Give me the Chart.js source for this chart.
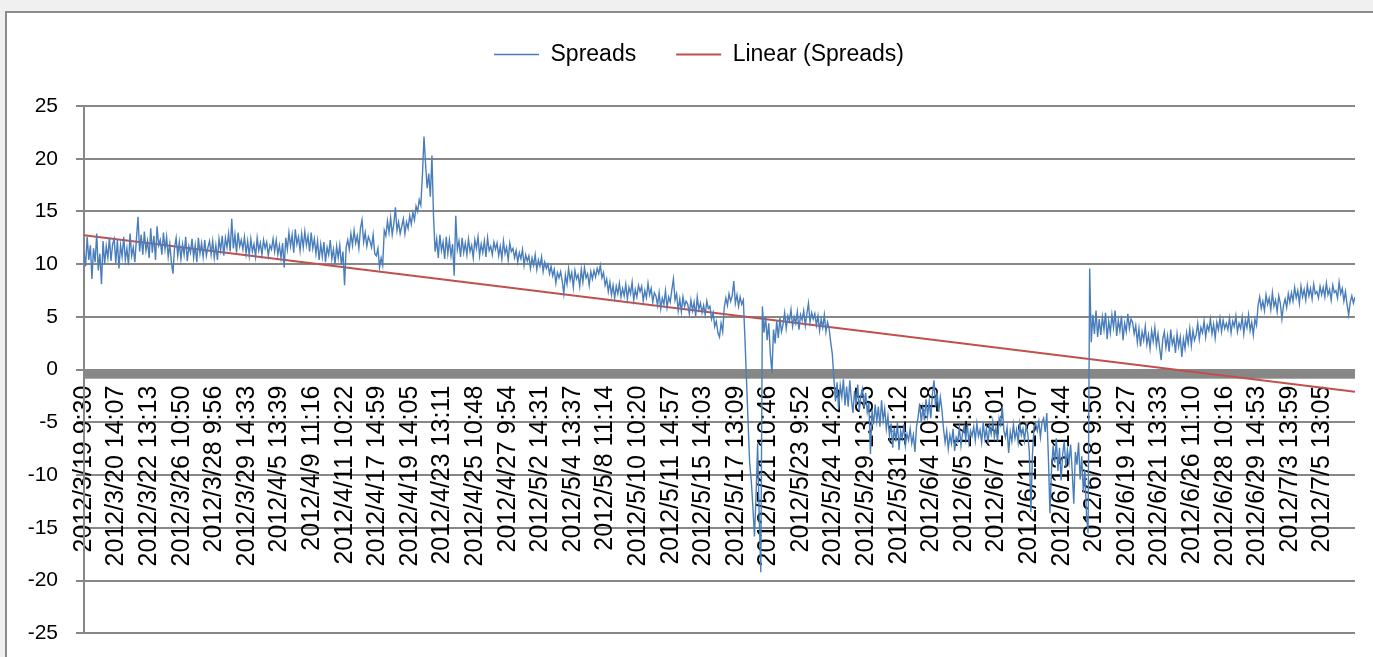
<!DOCTYPE html>
<html><head><meta charset="utf-8">
<script src="https://cdn.jsdelivr.net/npm/chart.js@4"></script>
<style>
html,body{margin:0;padding:0;background:#f0f0f0;overflow:hidden;width:1373px;height:657px}
#frame{position:absolute;left:5px;top:11px;width:1420px;height:720px;background:#fff;border:2px solid #8c8c8c;box-sizing:border-box}
#wrap{position:absolute;left:0;top:0;width:1398px;height:664px}
</style></head><body>
<div id="frame"></div>
<div id="wrap"><canvas id="c" width="1398" height="664"></canvas></div>
<script>
const tickLabels = [
"2012/3/19 9:30","2012/3/20 14:07","2012/3/22 13:13","2012/3/26 10:50","2012/3/28 9:56",
"2012/3/29 14:33","2012/4/5 13:39","2012/4/9 11:16","2012/4/11 10:22","2012/4/17 14:59",
"2012/4/19 14:05","2012/4/23 13:11","2012/4/25 10:48","2012/4/27 9:54","2012/5/2 14:31",
"2012/5/4 13:37","2012/5/8 11:14","2012/5/10 10:20","2012/5/11 14:57","2012/5/15 14:03",
"2012/5/17 13:09","2012/5/21 10:46","2012/5/23 9:52","2012/5/24 14:29","2012/5/29 13:35",
"2012/5/31 11:12","2012/6/4 10:18","2012/6/5 14:55","2012/6/7 14:01","2012/6/11 13:07",
"2012/6/13 10:44","2012/6/18 9:50","2012/6/19 14:27","2012/6/21 13:33","2012/6/26 11:10",
"2012/6/28 10:16","2012/6/29 14:53","2012/7/3 13:59","2012/7/5 13:05"
];
const spreads = [
11.2,9.8,12.6,10.4,11.8,8.6,11.5,10.2,12.9,9.4,11.0,8.1,12.2,10.0,11.7,10.6,12.5,10.3,11.9,12.4,
10.1,12.3,9.6,11.8,10.7,12.6,10.4,11.5,9.9,12.9,10.8,11.6,10.2,12.4,14.5,11.2,12.8,10.9,13.1,11.3,
12.2,10.6,13.4,11.1,12.7,10.4,13.6,11.8,12.3,10.9,13.0,11.4,12.6,10.7,11.9,10.2,9.1,11.6,12.5,10.8,
12.1,10.5,11.9,10.9,12.6,10.3,11.7,11.1,12.4,10.6,11.8,10.2,12.5,11.0,12.0,10.7,12.3,10.8,11.6,12.2,
10.9,12.2,10.6,11.8,10.4,12.4,11.3,12.7,10.8,12.5,11.6,12.9,11.2,14.3,11.5,12.8,11.1,13.0,11.7,12.3,
11.4,12.6,11.0,12.2,10.8,12.4,11.2,11.9,10.7,12.5,11.3,12.0,10.9,12.3,11.5,12.1,10.8,11.8,11.4,12.4,
11.2,12.3,10.9,11.8,10.6,12.0,9.7,12.5,11.4,13.0,11.7,12.8,11.1,13.3,11.9,12.6,11.3,12.9,11.6,13.1,
11.8,12.7,11.2,13.0,11.5,12.4,11.0,12.2,10.4,11.9,10.7,12.1,10.2,11.6,10.9,12.3,10.5,11.4,10.0,11.7,
10.6,11.8,9.9,11.2,8.0,11.6,12.3,11.4,12.9,11.8,13.2,12.0,12.7,11.5,13.4,14.2,12.1,13.0,11.7,12.6,
12.2,11.6,12.8,11.0,10.8,11.5,9.7,10.6,9.9,13.2,12.7,14.1,13.0,14.4,12.8,13.8,15.4,13.2,14.0,12.9,
13.6,14.3,12.9,14.0,13.4,14.6,13.8,14.9,14.2,15.5,15.0,16.1,15.6,18.4,22.1,19.5,17.2,18.6,16.4,20.3,
14.5,11.2,12.4,10.6,12.8,11.3,12.1,10.5,12.6,11.0,12.3,10.8,11.9,8.9,14.6,11.4,12.2,10.7,12.5,11.1,
12.0,10.9,12.4,11.2,11.8,10.6,12.3,11.5,12.6,10.8,11.9,11.1,12.2,10.7,12.5,11.3,11.7,10.9,12.1,11.4,
12.0,10.8,11.7,10.5,12.2,11.0,11.6,10.4,12.0,11.2,11.5,10.6,11.3,10.2,11.1,10.5,11.4,9.9,10.9,10.3,
10.8,9.6,10.6,9.9,10.9,9.5,10.4,9.8,10.7,9.3,10.2,9.6,10.0,9.1,9.8,8.9,9.5,8.2,9.2,8.7,
9.3,8.4,7.2,9.0,8.1,9.6,8.5,9.2,7.8,9.4,8.6,9.0,7.9,9.5,8.3,9.7,8.7,9.1,8.0,9.3,
8.6,9.4,8.8,9.6,9.1,9.9,8.7,9.2,8.0,8.6,7.4,8.3,7.1,8.0,6.8,7.9,7.2,8.2,6.9,7.7,
7.0,8.1,6.7,7.8,7.2,8.3,6.6,7.6,6.9,8.0,7.4,7.9,6.5,7.5,6.8,8.2,7.1,7.7,6.4,7.3,
7.0,6.1,7.3,5.8,6.8,6.2,7.5,5.9,6.9,6.4,7.6,8.6,6.6,7.2,5.6,6.7,5.5,6.9,6.0,6.5,
6.2,5.3,6.6,5.6,6.4,5.1,6.9,5.7,6.3,5.4,6.1,5.2,6.5,5.8,6.0,4.8,5.4,4.1,4.6,3.5,
3.1,4.4,3.6,5.9,6.8,6.1,7.2,6.5,7.0,8.4,6.3,7.1,6.0,6.9,6.2,6.6,3.0,-1.0,-5.0,-8.9,
-10.5,-13.0,-15.8,-12.0,-7.0,-14.0,-19.2,6.0,3.5,5.0,2.8,4.4,1.5,-0.3,3.8,2.5,4.6,3.0,4.9,3.6,
4.3,5.4,3.9,5.1,4.6,5.7,4.1,5.0,4.4,5.5,3.8,5.2,4.7,5.6,4.2,5.3,6.3,4.5,5.4,4.8,
5.3,4.2,5.1,3.7,4.8,4.0,5.2,3.6,4.5,3.9,2.6,1.5,-0.8,-3.0,-1.2,-3.8,-1.5,-2.6,-0.9,-3.4,
-1.6,-3.5,-1.0,-2.8,-4.1,-2.0,-3.3,-1.4,-3.9,-2.4,-1.8,-3.6,-2.2,-4.0,-3.1,-8.0,-3.8,-5.2,-3.3,-4.9,
-3.5,-5.4,-2.9,-4.8,-3.7,-5.6,-4.4,-6.3,-5.1,-7.4,-5.5,-6.8,-5.0,-7.6,-5.8,-6.5,-5.2,-7.2,-6.1,-6.7,
-5.6,-7.0,-6.2,-7.8,-5.4,-4.5,-3.2,-5.0,-3.6,-4.8,-2.8,-4.4,-3.0,-4.6,-2.4,-1.0,-3.5,-2.2,-4.0,-2.6,
-3.8,-5.6,-6.9,-5.8,-7.5,-6.2,-7.0,-5.6,-7.7,-6.4,-6.8,-5.5,-7.2,-6.0,-5.4,-6.6,-5.2,-6.9,-5.8,-6.3,
-5.4,-6.7,-5.1,-6.3,-5.7,-6.9,-5.0,-6.5,-5.6,-7.0,-5.3,-6.1,-4.9,-6.4,-5.5,-6.8,-4.6,-5.2,-3.5,-5.8,
-6.4,-5.5,-7.9,-5.9,-6.8,-5.2,-6.5,-5.7,-6.9,-5.1,-6.2,-5.6,-6.7,-5.3,-6.0,-7.8,-13.5,-8.0,-5.4,-5.1,
-5.8,-4.9,-6.4,-5.0,-4.6,-5.9,-4.1,-8.2,-13.6,-9.4,-7.2,-8.8,-6.5,-9.6,-7.4,-10.5,-8.0,-6.8,-9.2,-7.6,
-8.8,-7.1,-9.6,-12.7,-7.8,-9.0,-6.9,-10.4,-8.2,-11.6,-9.5,-13.8,-15.5,9.6,2.6,5.2,3.4,5.6,3.1,4.8,
3.3,5.0,3.8,5.4,2.9,4.6,3.5,5.2,4.0,5.6,3.2,4.7,3.7,5.1,2.8,4.4,3.6,5.3,3.9,4.8,
4.5,3.4,4.2,2.6,3.9,2.2,3.6,2.8,4.1,2.4,3.3,2.0,3.7,2.7,4.0,2.3,3.4,2.1,0.9,2.9,
3.6,2.1,3.2,1.7,3.8,2.4,3.0,1.6,3.4,2.2,3.1,1.2,2.9,2.0,3.5,2.5,3.9,2.3,3.7,2.8,
3.3,4.4,2.9,4.0,3.5,4.6,3.1,4.2,3.7,4.8,3.4,4.3,3.0,4.5,3.8,4.9,3.6,4.7,3.9,4.4,
3.8,4.9,3.5,4.6,4.1,5.1,3.6,4.4,3.9,5.0,3.4,4.7,4.0,5.2,3.7,4.5,3.3,4.8,4.2,6.1,
6.9,5.8,6.5,5.6,7.1,6.2,6.8,5.7,7.3,6.0,6.6,5.5,7.0,6.3,4.8,6.1,6.7,5.9,7.2,6.4,
7.3,6.5,7.8,6.8,7.5,6.3,7.9,6.9,7.6,6.6,8.0,7.0,7.7,6.7,8.1,7.2,7.4,6.8,7.9,7.1,
7.8,6.9,8.2,7.1,7.6,6.6,8.0,7.3,7.5,6.8,8.3,7.2,7.7,6.5,7.4,6.2,5.2,6.4,7.0,6.3,
6.9
];
const trendStart = 12.75;
const trendEnd = -2.1;
const yTicks = [-25,-20,-15,-10,-5,0,5,10,15,20,25];

const lastIndex = spreads.length - 1;
const tickStep = lastIndex / tickLabels.length;

const axisBand = {
  id: 'axisBand',
  beforeDatasetsDraw(chart) {
    const {ctx, chartArea, scales} = chart;
    const y0 = scales.y.getPixelForValue(0);
    ctx.save();
    ctx.fillStyle = '#878787';
    ctx.fillRect(chartArea.left, y0 - 0.5, chartArea.right - chartArea.left, 9.5);
    ctx.restore();
  }
};

const hiddenAxis = {
  type: 'linear',
  display: true,
  grid: {display: false, drawTicks: false},
  border: {display: false},
  ticks: {display: false}
};

new Chart(document.getElementById('c'), {
  type: 'line',
  data: {
    datasets: [
      {
        label: 'Spreads',
        xAxisID: 'x',
        yAxisID: 'y',
        data: spreads.map((v, i) => ({x: i, y: v})),
        borderColor: '#4a7ebb',
        borderWidth: 1.4,
        pointRadius: 0,
        tension: 0
      },
      {
        label: 'Linear (Spreads)',
        xAxisID: 'x',
        yAxisID: 'y',
        data: [{x: 0, y: trendStart}, {x: lastIndex, y: trendEnd}],
        borderColor: '#c0504d',
        borderWidth: 2,
        pointRadius: 0,
        tension: 0
      }
    ]
  },
  plugins: [axisBand],
  options: {
    responsive: false,
    animation: false,
    layout: {padding: {left: 0, right: 0, top: 3, bottom: 17}},
    plugins: {
      tooltip: {enabled: false},
      legend: {
        position: 'top',
        labels: {
          usePointStyle: true,
          pointStyle: 'line',
          pointStyleWidth: 45,
          padding: 40,
          color: '#000',
          font: {family: 'Liberation Sans', size: 23}
        }
      }
    },
    scales: {
      x: {
        type: 'linear',
        position: {y: 0},
        min: 0,
        max: lastIndex,
        grid: {display: false, drawTicks: false},
        border: {display: false},
        afterBuildTicks(scale) {
          scale.ticks = tickLabels.map((_, m) => ({value: m * tickStep}));
        },
        ticks: {
          autoSkip: false,
          maxRotation: 90,
          minRotation: 90,
          padding: 16,
          color: '#000',
          font: {family: 'Liberation Sans', size: 25},
          callback: (v, i) => tickLabels[i]
        }
      },
      y: {
        position: 'left',
        min: -25,
        max: 25,
        afterFit(scale) { scale.width = 84; },
        afterBuildTicks(scale) {
          scale.ticks = yTicks.map(v => ({value: v}));
        },
        grid: {color: '#878787', lineWidth: 2, tickLength: 8},
        border: {color: '#878787', width: 2},
        ticks: {
          padding: 18,
          color: '#000',
          font: {family: 'Liberation Sans', size: 21}
        }
      },
      xTopSpacer: Object.assign({}, hiddenAxis, {
        position: 'top',
        afterFit(scale) { scale.height = 30; }
      }),
      yRightSpacer: Object.assign({}, hiddenAxis, {
        position: 'right',
        afterFit(scale) { scale.width = 43; }
      })
    }
  }
});
</script>
</body></html>
